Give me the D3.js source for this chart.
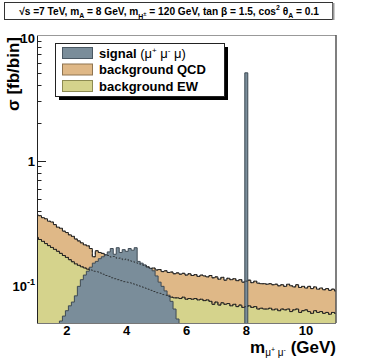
<!DOCTYPE html>
<html>
<head>
<meta charset="utf-8">
<script src="https://cdn.jsdelivr.net/npm/d3@7"></script>
<style>
  body { margin: 0; background: #fff; }
  svg { display: block; font-family: "Liberation Sans", Arial, Helvetica, sans-serif; }
</style>
</head>
<body>
<div id="chart"></div>
<script>
// Histogram bins: centres at 1.0, 1.1, ... 11.0 GeV, 0.1 GeV wide
const binStart = 1.0;
const binWidth = 0.1;

// background EW (fb/bin)
const ewValues = [
  0.245, 0.236, 0.228, 0.219, 0.211, 0.204, 0.197, 0.190, 0.183, 0.176,
  0.170, 0.163, 0.157, 0.151, 0.147, 0.143, 0.140, 0.137, 0.135, 0.132,
  0.131, 0.128, 0.125, 0.122, 0.120, 0.117, 0.115, 0.113, 0.111, 0.109,
  0.108, 0.107, 0.105, 0.103, 0.101, 0.099, 0.097, 0.095, 0.093, 0.091,
  0.089, 0.088, 0.086, 0.085, 0.083, 0.082, 0.081, 0.081, 0.080, 0.082,
  0.079, 0.080, 0.079, 0.080, 0.078, 0.079, 0.077, 0.078, 0.076, 0.072,
  0.075, 0.071, 0.074, 0.072, 0.073, 0.070, 0.072, 0.069, 0.071, 0.068,
  0.069, 0.070, 0.068, 0.069, 0.066, 0.067, 0.066, 0.066, 0.067, 0.065,
  0.066, 0.064, 0.066, 0.065, 0.066, 0.063, 0.065, 0.066, 0.062, 0.064,
  0.065, 0.063, 0.061, 0.064, 0.062, 0.063, 0.061, 0.062, 0.060, 0.062,
  0.061
];

// background QCD (fb/bin), stacked on top of EW
const qcdValues = [
  0.125, 0.129, 0.124, 0.126, 0.119, 0.121, 0.113, 0.106, 0.107, 0.099,
  0.098, 0.094, 0.093, 0.087, 0.083, 0.079, 0.074, 0.073, 0.065, 0.040,
  0.061, 0.058, 0.058, 0.056, 0.056, 0.054, 0.058, 0.054, 0.057, 0.054,
  0.057, 0.053, 0.053, 0.052, 0.051, 0.049, 0.050, 0.048, 0.046, 0.049,
  0.046, 0.048, 0.045, 0.048, 0.046, 0.048, 0.045, 0.047, 0.045, 0.045,
  0.044, 0.046, 0.043, 0.044, 0.042, 0.044, 0.044, 0.041, 0.046, 0.045,
  0.044, 0.043, 0.044, 0.040, 0.043, 0.043, 0.043, 0.042, 0.042, 0.040,
  0.041, 0.042, 0.039, 0.041, 0.040, 0.038, 0.039, 0.038, 0.038, 0.038,
  0.038, 0.037, 0.037, 0.035, 0.038, 0.038, 0.034, 0.037, 0.036, 0.036,
  0.032, 0.037, 0.035, 0.035, 0.033, 0.034, 0.033, 0.034, 0.033, 0.033,
  0.031
];

// signal (mu+ mu- mu), drawn over the backgrounds
const signalValues = [
  0, 0, 0, 0, 0, 0, 0, 0, 0.053, 0.058,
  0.064, 0.070, 0.075, 0.084, 0.100, 0.113, 0.123, 0.132, 0.142, 0.153,
  0.158, 0.166, 0.172, 0.178, 0.188, 0.200, 0.180, 0.203, 0.186, 0.196,
  0.190, 0.200, 0.194, 0.203, 0.158, 0.153, 0.148, 0.142, 0.139, 0.133,
  0.121, 0.108, 0.100, 0.092, 0.085, 0.076, 0.066, 0.055, 0, 0,
  0, 0, 0, 0, 0, 0, 0, 0, 0, 0,
  0, 0, 0, 0, 0, 0, 0, 0, 0, 0,
  5.0, 0, 0, 0, 0, 0, 0, 0, 0, 0,
  0, 0, 0, 0, 0, 0, 0, 0, 0, 0,
  0, 0, 0, 0, 0, 0, 0, 0, 0, 0,
  0
];

const xTickValues = [2, 4, 6, 8, 10];
const yMajorTicks = [0.1, 1, 10];
const legendNames = ["signal", "background QCD", "background EW"];
const colors = { signal: "#7a8d9a", qcd: "#dfb887", ew: "#d5d38c" };

// Layout
const W = 374, H = 359;
const plot = { left: 37, right: 336, top: 35, bottom: 323 };

const svg = d3.select("#chart")
  .append("svg")
  .attr("width", W)
  .attr("height", H);

const x = d3.scaleLinear().domain([1, 11]).range([plot.left, plot.right]);
const y = d3.scaleLog().domain([0.0511, 10]).range([plot.bottom, plot.top]);
const yFloor = 0.02; // empty bins go below the frame and get clipped

svg.append("defs").append("clipPath")
  .attr("id", "plotClip")
  .append("rect")
  .attr("x", plot.left)
  .attr("y", plot.top)
  .attr("width", plot.right - plot.left)
  .attr("height", plot.bottom - plot.top);

// turn a list of bin contents into step points
function steps(values) {
  const pts = [];
  values.forEach((v, i) => {
    const c = binStart + i * binWidth;
    pts.push([c - binWidth / 2, v], [c + binWidth / 2, v]);
  });
  return pts;
}

const yv = v => y(Math.max(v, yFloor));
const area = d3.area().x(d => x(d[0])).y0(plot.bottom + 5).y1(d => yv(d[1]));
const line = d3.line().x(d => x(d[0])).y(d => yv(d[1]));

const totalValues = ewValues.map((v, i) => v + qcdValues[i]);

// ---- y axis ticks (drawn first, histograms cover them like ROOT does)
const yTicks = y.ticks();
svg.append("g")
  .selectAll("line")
  .data(yTicks)
  .enter()
  .append("line")
  .attr("x1", plot.left)
  .attr("x2", d => plot.left + (yMajorTicks.includes(d) ? 9 : 4.5))
  .attr("y1", d => Math.round(y(d)) + 0.5)
  .attr("y2", d => Math.round(y(d)) + 0.5)
  .attr("stroke", "#222")
  .attr("stroke-width", 1);

// ---- histograms
const hist = svg.append("g").attr("clip-path", "url(#plotClip)");

hist.append("path")
  .attr("d", area(steps(totalValues)))
  .attr("fill", colors.qcd);
hist.append("path")
  .attr("d", area(steps(ewValues)))
  .attr("fill", colors.ew);
hist.append("path")
  .attr("d", line(steps(totalValues)))
  .attr("fill", "none")
  .attr("stroke", "#222")
  .attr("stroke-width", 1);
hist.append("path")
  .attr("d", line(steps(ewValues)))
  .attr("fill", "none")
  .attr("stroke", "#222")
  .attr("stroke-width", 1);

hist.append("path")
  .attr("d", area(steps(signalValues)))
  .attr("fill", colors.signal);
hist.append("path")
  .attr("d", line(steps(signalValues)))
  .attr("fill", "none")
  .attr("stroke", "#3e4a54")
  .attr("stroke-width", 1);

// dashed background outlines visible through the signal
[totalValues, ewValues].forEach(vals => {
  hist.append("path")
    .attr("d", line(steps(vals)))
    .attr("fill", "none")
    .attr("stroke", "#222")
    .attr("stroke-width", 0.8)
    .attr("stroke-dasharray", "2,2");
});

// ---- frame
svg.append("line")
  .attr("x1", plot.left + 0.5).attr("x2", plot.left + 0.5)
  .attr("y1", plot.top).attr("y2", plot.bottom)
  .attr("stroke", "#222");
svg.append("line")
  .attr("x1", plot.left).attr("x2", plot.right)
  .attr("y1", plot.top + 0.5).attr("y2", plot.top + 0.5)
  .attr("stroke", "#999");
svg.append("line")
  .attr("x1", plot.right).attr("x2", plot.right)
  .attr("y1", plot.top).attr("y2", plot.bottom)
  .attr("stroke", "#555")
  .attr("stroke-width", 1.5);
svg.append("line")
  .attr("x1", plot.left).attr("x2", plot.right)
  .attr("y1", plot.bottom + 0.5).attr("y2", plot.bottom + 0.5)
  .attr("stroke", "#777");

// ---- y tick labels
const yLab = svg.append("g")
  .attr("font-weight", "bold")
  .attr("font-size", 13)
  .attr("text-anchor", "end");
yMajorTicks.forEach(v => {
  const t = yLab.append("text")
    .attr("x", plot.left - 2)
    .attr("y", y(v) + 5 + (v === 10 ? 3 : 0));
  if (v < 1) {
    t.append("tspan").text("10");
    t.append("tspan").attr("font-size", 9).attr("dy", -6).text("-1");
  } else {
    t.text(v);
  }
});

// ---- x tick labels
svg.append("g")
  .selectAll("text")
  .data(xTickValues)
  .enter()
  .append("text")
  .attr("x", d => x(d))
  .attr("y", 335)
  .attr("text-anchor", "middle")
  .attr("font-weight", "bold")
  .attr("font-size", 13)
  .text(d => d);

// ---- axis titles
const xTitle = svg.append("text")
  .attr("x", plot.right)
  .attr("y", 353)
  .attr("text-anchor", "end")
  .attr("font-weight", "bold")
  .attr("font-size", 17);
xTitle.append("tspan").text("m");
xTitle.append("tspan").attr("font-size", 10).attr("font-weight", "normal").attr("dy", 3).text("\u03bc");
xTitle.append("tspan").attr("font-size", 7).attr("font-weight", "normal").attr("dy", -4).text("+");
xTitle.append("tspan").attr("font-size", 10).attr("font-weight", "normal").attr("dy", 4).text(" \u03bc");
xTitle.append("tspan").attr("font-size", 7).attr("font-weight", "normal").attr("dy", -4).text("-");
xTitle.append("tspan").attr("dy", 1).text(" (GeV)");

svg.append("text")
  .attr("transform", "translate(19, 37) rotate(-90)")
  .attr("text-anchor", "end")
  .attr("font-weight", "bold")
  .attr("font-size", 17)
  .text("\u03c3 [fb/bin]");

// ---- legend
const leg = { x: 55, y: 43, w: 169, h: 53 };
svg.append("rect")
  .attr("x", leg.x + 4).attr("y", leg.y + 4)
  .attr("width", leg.w).attr("height", leg.h)
  .attr("fill", "#000");
svg.append("rect")
  .attr("x", leg.x + 0.5).attr("y", leg.y + 0.5)
  .attr("width", leg.w).attr("height", leg.h)
  .attr("fill", "#fff")
  .attr("stroke", "#222");

const legColors = [colors.signal, colors.qcd, colors.ew];
const legStroke = ["#4a5863", "#8f7450", "#8d8b52"];
legendNames.forEach((name, i) => {
  const ry = leg.y + 4.5 + i * 16.5;
  svg.append("rect")
    .attr("x", 62.5).attr("y", ry)
    .attr("width", 30).attr("height", 11)
    .attr("fill", legColors[i])
    .attr("stroke", legStroke[i]);
  const t = svg.append("text")
    .attr("x", 99)
    .attr("y", ry + 10)
    .attr("font-weight", "bold")
    .attr("font-size", 13)
    .text(name);
  if (i === 0) {
    t.append("tspan").attr("font-weight", "normal").text(" (\u03bc");
    t.append("tspan").attr("font-weight", "normal").attr("font-size", 8).attr("dy", -5).text("+");
    t.append("tspan").attr("font-weight", "normal").attr("dy", 5).text(" \u03bc");
    t.append("tspan").attr("font-weight", "normal").attr("font-size", 8).attr("dy", -5).text("-");
    t.append("tspan").attr("font-weight", "normal").attr("dy", 5).text(" \u03bc)");
  }
});

// ---- title box
svg.append("rect")
  .attr("x", 4.5).attr("y", 2.5)
  .attr("width", 328).attr("height", 17)
  .attr("fill", "#fff")
  .attr("stroke", "#333");
svg.append("line")
  .attr("x1", 333.5).attr("x2", 333.5)
  .attr("y1", 3).attr("y2", 20)
  .attr("stroke", "#999")
  .attr("stroke-width", 2);

// title text; built once, measured, then rebuilt so it spans ~302 px like the original
function buildTitle(s) {
  svg.select(".title").remove();
  const title = svg.append("text")
    .attr("class", "title")
    .attr("x", 169)
    .attr("y", 15)
    .attr("text-anchor", "middle")
    .attr("font-weight", "bold")
    .attr("font-size", s);
  const small = s * 0.68;
  const sub = (txt, dy) => title.append("tspan").attr("font-size", small).attr("dy", dy).text(txt);
  title.append("tspan").text("\u221as =7 TeV, m");
  sub("A", 3);
  title.append("tspan").attr("dy", -3).text(" = 8 GeV, m");
  sub("H", 4);
  title.append("tspan").attr("font-size", small * 0.85).attr("dy", -3).text("\u00b1");
  title.append("tspan").attr("dy", -1).text(" = 120 GeV, tan \u03b2 = 1.5, cos");
  sub("2", -5);
  title.append("tspan").attr("dy", 5).text(" \u03b8");
  sub("A", 3);
  title.append("tspan").attr("dy", -3).text(" = 0.1");
  return title;
}
const firstTitle = buildTitle(11);
const titleWidth = firstTitle.node().getBBox().width || 302;
buildTitle(Math.min(11, 11 * 300 / titleWidth));
</script>
</body>
</html>
